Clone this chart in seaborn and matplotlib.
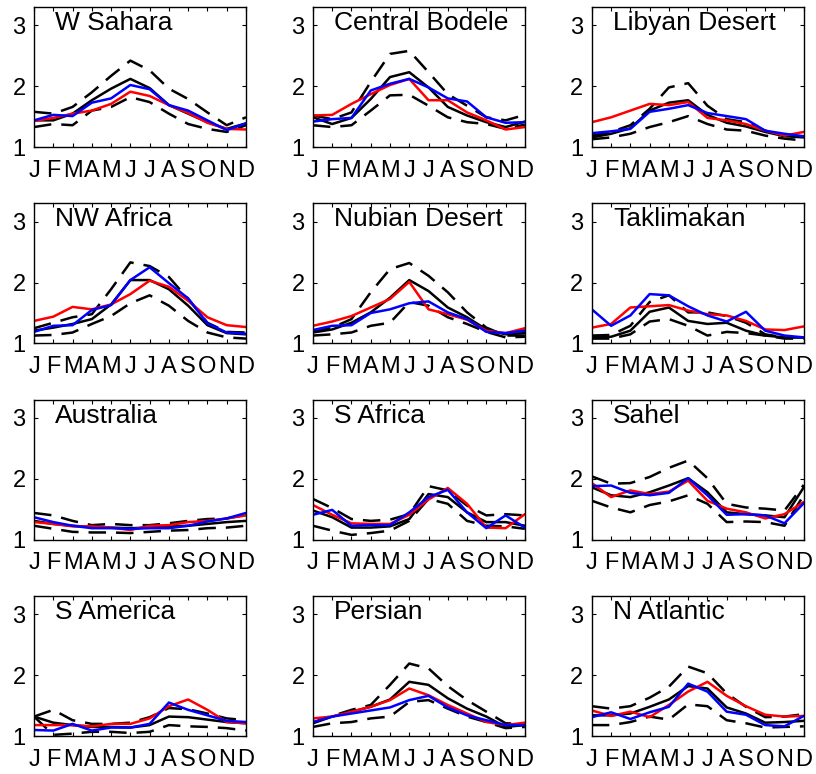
import numpy as np
import matplotlib
matplotlib.use("Agg")
import matplotlib.pyplot as plt
import seaborn as sns
import pandas as pd

regions = ["W Sahara", "Central Bodele", "Libyan Desert",
           "NW Africa", "Nubian Desert", "Taklimakan",
           "Australia", "S Africa", "Sahel",
           "S America", "Persian", "N Atlantic"]
month_labels = ["J", "F", "M", "A", "M", "J", "J", "A", "S", "O", "N", "D"]
months = np.arange(1, 13)

# black solid (mean)
mean_vals = {
    "W Sahara":       [1.44, 1.44, 1.55, 1.77, 1.96, 2.12, 1.97, 1.69, 1.55, 1.41, 1.30, 1.39],
    "Central Bodele": [1.49, 1.38, 1.48, 1.79, 2.15, 2.23, 1.98, 1.66, 1.52, 1.41, 1.33, 1.42],
    "Libyan Desert":  [1.16, 1.22, 1.31, 1.60, 1.73, 1.77, 1.53, 1.40, 1.34, 1.25, 1.18, 1.16],
    "NW Africa":      [1.21, 1.26, 1.32, 1.40, 1.64, 2.04, 2.04, 1.89, 1.62, 1.30, 1.17, 1.15],
    "Nubian Desert":  [1.18, 1.23, 1.34, 1.51, 1.75, 2.04, 1.86, 1.59, 1.43, 1.23, 1.15, 1.17],
    "Taklimakan":     [1.10, 1.11, 1.21, 1.52, 1.59, 1.37, 1.32, 1.34, 1.21, 1.13, 1.10, 1.10],
    "Australia":      [1.31, 1.26, 1.23, 1.21, 1.20, 1.19, 1.20, 1.22, 1.23, 1.26, 1.29, 1.31],
    "S Africa":       [1.48, 1.37, 1.20, 1.20, 1.22, 1.34, 1.75, 1.70, 1.45, 1.29, 1.29, 1.23],
    "Sahel":          [1.86, 1.73, 1.70, 1.78, 1.89, 2.01, 1.78, 1.45, 1.42, 1.40, 1.37, 1.86],
    "S America":      [1.32, 1.22, 1.18, 1.15, 1.15, 1.14, 1.18, 1.32, 1.31, 1.27, 1.23, 1.21],
    "Persian":        [1.21, 1.32, 1.40, 1.48, 1.60, 1.89, 1.84, 1.62, 1.45, 1.32, 1.15, 1.18],
    "N Atlantic":     [1.34, 1.34, 1.37, 1.48, 1.60, 1.82, 1.78, 1.47, 1.37, 1.22, 1.23, 1.25],
}
# black dashed, upper
upper_vals = {
    "W Sahara":       [1.58, 1.55, 1.66, 1.90, 2.17, 2.42, 2.26, 1.96, 1.79, 1.57, 1.36, 1.49],
    "Central Bodele": [1.52, 1.46, 1.57, 2.07, 2.53, 2.58, 2.23, 1.87, 1.68, 1.49, 1.44, 1.53],
    "Libyan Desert":  [1.19, 1.25, 1.36, 1.63, 1.98, 2.05, 1.68, 1.46, 1.41, 1.27, 1.19, 1.19],
    "NW Africa":      [1.25, 1.34, 1.43, 1.48, 1.89, 2.33, 2.27, 2.09, 1.73, 1.34, 1.19, 1.18],
    "Nubian Desert":  [1.21, 1.26, 1.40, 1.84, 2.22, 2.32, 2.11, 1.84, 1.51, 1.26, 1.13, 1.13],
    "Taklimakan":     [1.13, 1.14, 1.29, 1.68, 1.79, 1.51, 1.51, 1.45, 1.34, 1.15, 1.10, 1.10],
    "Australia":      [1.44, 1.40, 1.31, 1.24, 1.26, 1.24, 1.24, 1.27, 1.31, 1.34, 1.35, 1.41],
    "S Africa":       [1.67, 1.52, 1.34, 1.31, 1.33, 1.42, 1.88, 1.81, 1.56, 1.40, 1.42, 1.40],
    "Sahel":          [2.04, 1.92, 1.93, 2.03, 2.18, 2.30, 2.01, 1.59, 1.53, 1.51, 1.48, 1.90],
    "S America":      [1.32, 1.43, 1.26, 1.20, 1.20, 1.22, 1.31, 1.46, 1.44, 1.37, 1.29, 1.26],
    "Persian":        [1.22, 1.33, 1.43, 1.51, 1.84, 2.19, 2.11, 1.82, 1.59, 1.40, 1.21, 1.20],
    "N Atlantic":     [1.49, 1.45, 1.49, 1.63, 1.81, 2.14, 2.03, 1.70, 1.48, 1.31, 1.32, 1.36],
}
# black dashed, lower
lower_vals = {
    "W Sahara":       [1.33, 1.38, 1.36, 1.60, 1.66, 1.82, 1.74, 1.55, 1.38, 1.30, 1.25, 1.36],
    "Central Bodele": [1.36, 1.33, 1.36, 1.60, 1.85, 1.86, 1.68, 1.49, 1.41, 1.38, 1.30, 1.37],
    "Libyan Desert":  [1.13, 1.16, 1.22, 1.33, 1.41, 1.51, 1.38, 1.29, 1.27, 1.19, 1.14, 1.11],
    "NW Africa":      [1.13, 1.14, 1.18, 1.32, 1.45, 1.66, 1.79, 1.62, 1.37, 1.18, 1.10, 1.08],
    "Nubian Desert":  [1.13, 1.15, 1.18, 1.29, 1.34, 1.68, 1.62, 1.43, 1.32, 1.19, 1.10, 1.11],
    "Taklimakan":     [1.08, 1.08, 1.15, 1.36, 1.40, 1.29, 1.13, 1.19, 1.17, 1.13, 1.08, 1.08],
    "Australia":      [1.23, 1.18, 1.13, 1.12, 1.12, 1.11, 1.13, 1.15, 1.16, 1.19, 1.20, 1.23],
    "S Africa":       [1.23, 1.15, 1.08, 1.11, 1.15, 1.31, 1.67, 1.59, 1.31, 1.23, 1.22, 1.18],
    "Sahel":          [1.64, 1.53, 1.45, 1.57, 1.63, 1.73, 1.59, 1.29, 1.30, 1.29, 1.23, 1.73],
    "S America":      [1.32, 1.02, 1.04, 1.07, 1.07, 1.05, 1.07, 1.18, 1.16, 1.15, 1.13, 1.09],
    "Persian":        [1.15, 1.21, 1.23, 1.29, 1.32, 1.56, 1.59, 1.45, 1.32, 1.23, 1.13, 1.15],
    "N Atlantic":     [1.18, 1.18, 1.23, 1.32, 1.27, 1.52, 1.49, 1.26, 1.21, 1.14, 1.15, 1.16],
}
red_vals = {
    "W Sahara":       [1.43, 1.48, 1.55, 1.60, 1.71, 1.91, 1.84, 1.69, 1.56, 1.40, 1.30, 1.29],
    "Central Bodele": [1.52, 1.53, 1.71, 1.87, 2.02, 2.12, 1.77, 1.77, 1.57, 1.44, 1.29, 1.33],
    "Libyan Desert":  [1.41, 1.49, 1.60, 1.71, 1.69, 1.74, 1.48, 1.44, 1.38, 1.27, 1.19, 1.25],
    "NW Africa":      [1.37, 1.44, 1.60, 1.56, 1.64, 1.81, 2.03, 1.93, 1.70, 1.43, 1.30, 1.27],
    "Nubian Desert":  [1.29, 1.36, 1.45, 1.59, 1.73, 2.01, 1.56, 1.48, 1.39, 1.21, 1.17, 1.25],
    "Taklimakan":     [1.26, 1.32, 1.59, 1.61, 1.63, 1.54, 1.48, 1.46, 1.37, 1.23, 1.22, 1.28],
    "Australia":      [1.29, 1.26, 1.22, 1.22, 1.20, 1.16, 1.23, 1.24, 1.29, 1.31, 1.35, 1.40],
    "S Africa":       [1.57, 1.41, 1.27, 1.26, 1.26, 1.41, 1.66, 1.85, 1.59, 1.20, 1.19, 1.42],
    "Sahel":          [1.93, 1.70, 1.81, 1.75, 1.79, 1.97, 1.64, 1.51, 1.45, 1.35, 1.42, 1.62],
    "S America":      [1.18, 1.18, 1.18, 1.16, 1.20, 1.20, 1.29, 1.49, 1.60, 1.43, 1.23, 1.21],
    "Persian":        [1.29, 1.32, 1.40, 1.48, 1.59, 1.78, 1.67, 1.51, 1.37, 1.23, 1.18, 1.22],
    "N Atlantic":     [1.42, 1.33, 1.40, 1.31, 1.51, 1.73, 1.89, 1.66, 1.49, 1.35, 1.32, 1.33],
}
blue_vals = {
    "W Sahara":       [1.44, 1.53, 1.51, 1.73, 1.80, 2.02, 1.95, 1.69, 1.60, 1.44, 1.28, 1.39],
    "Central Bodele": [1.42, 1.46, 1.48, 1.93, 2.04, 2.12, 1.98, 1.80, 1.75, 1.49, 1.40, 1.41],
    "Libyan Desert":  [1.23, 1.26, 1.30, 1.58, 1.63, 1.69, 1.56, 1.51, 1.46, 1.27, 1.22, 1.18],
    "NW Africa":      [1.19, 1.29, 1.30, 1.55, 1.63, 2.04, 2.25, 1.99, 1.74, 1.33, 1.18, 1.16],
    "Nubian Desert":  [1.22, 1.29, 1.30, 1.50, 1.56, 1.66, 1.69, 1.51, 1.40, 1.19, 1.17, 1.21],
    "Taklimakan":     [1.56, 1.29, 1.46, 1.81, 1.79, 1.61, 1.46, 1.36, 1.52, 1.21, 1.13, 1.10],
    "Australia":      [1.37, 1.29, 1.23, 1.19, 1.19, 1.18, 1.19, 1.19, 1.23, 1.30, 1.35, 1.44],
    "S Africa":       [1.41, 1.49, 1.23, 1.24, 1.24, 1.45, 1.70, 1.82, 1.45, 1.19, 1.40, 1.20],
    "Sahel":          [1.88, 1.89, 1.77, 1.73, 1.77, 2.01, 1.73, 1.41, 1.42, 1.40, 1.27, 1.60],
    "S America":      [1.10, 1.09, 1.20, 1.09, 1.14, 1.14, 1.20, 1.55, 1.43, 1.34, 1.25, 1.23],
    "Persian":        [1.23, 1.32, 1.37, 1.42, 1.47, 1.59, 1.66, 1.47, 1.34, 1.26, 1.18, 1.18],
    "N Atlantic":     [1.31, 1.39, 1.28, 1.39, 1.48, 1.86, 1.73, 1.40, 1.35, 1.18, 1.16, 1.33],
}

sns.set_style("ticks")
plt.rcParams['font.family'] = ['Liberation Sans', 'DejaVu Sans']
plt.rcParams['text.color'] = 'black'
plt.rcParams['xtick.color'] = 'black'
plt.rcParams['ytick.color'] = 'black'
plt.rcParams['axes.edgecolor'] = 'black'

fig, axes = plt.subplots(4, 3, figsize=(8.16, 7.74), dpi=100)
fig.subplots_adjust(left=0.0417, right=0.985, top=0.991, bottom=0.049,
                    wspace=0.316, hspace=0.40)

lw = 1.8
dash = (7, 4)
for ax, name in zip(axes.flat, regions):
    sns.lineplot(x=months, y=upper_vals[name], ax=ax, color="black", lw=lw)
    sns.lineplot(x=months, y=lower_vals[name], ax=ax, color="black", lw=lw)
    for ln in ax.get_lines():
        ln.set_linestyle((0, dash))
    sns.lineplot(x=months, y=mean_vals[name], ax=ax, color="black", lw=lw)
    sns.lineplot(x=months, y=red_vals[name], ax=ax, color="red", lw=lw)
    sns.lineplot(x=months, y=blue_vals[name], ax=ax, color="blue", lw=lw)

    ax.set_xlim(1, 12)
    ax.set_ylim(1, 3.3)
    ax.set_xticks(months)
    ax.set_xticklabels(month_labels)
    ax.set_yticks([1, 2, 3])
    ax.tick_params(direction="in", top=True, right=True, length=3,
                   labelsize=17, width=0.8)
    ax.tick_params(axis="x", pad=9)
    ax.tick_params(axis="y", pad=6)
    for s in ax.spines.values():
        s.set_linewidth(1.0)
        s.set_visible(True)
    ax.text(0.1, 0.97, name, transform=ax.transAxes, ha="left", va="top",
            fontsize=19)

fig.savefig("out.png", dpi=100)
